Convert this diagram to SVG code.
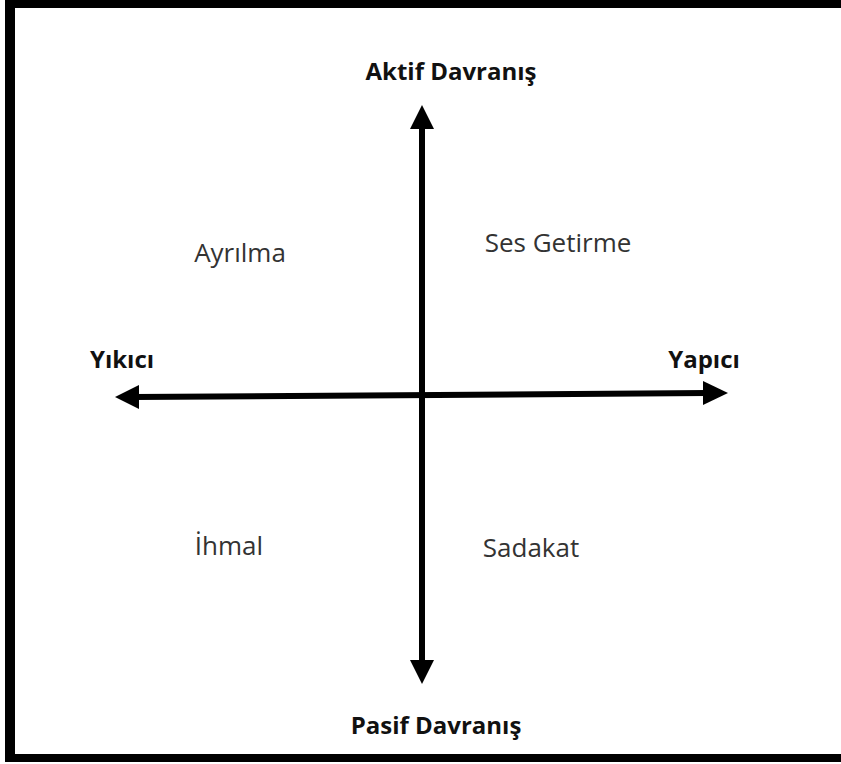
<svg xmlns="http://www.w3.org/2000/svg" width="841" height="764" viewBox="0 0 841 764">
  <style>
    .axis { stroke: #000; stroke-width: 6; fill: none; }
    .head { fill: #000; }
    .bold { font-family: "Open Sans", "Liberation Sans", sans-serif; font-weight: bold; font-size: 24px; fill: #111; }
    .reg { font-family: "Open Sans", "Liberation Sans", sans-serif; font-size: 26px; fill: #333; }
  </style>
  <rect x="0" y="0" width="841" height="764" fill="#fff"/>
  <g id="frame">
    <rect x="5" y="0" width="836" height="8" fill="#000"/>
    <rect x="5" y="0" width="10" height="762" fill="#000"/>
    <rect x="5" y="754" width="836" height="8" fill="#000"/>
  </g>
  <g id="connectors">
    <line class="axis" x1="422" y1="124" x2="422" y2="664"/>
    <polygon class="head" points="422,105 410,129 434,129"/>
    <polygon class="head" points="422,684 410,660 434,660"/>
    <line class="axis" x1="134" y1="397" x2="707" y2="393"/>
    <polygon class="head" points="115,397 139,385 139,409"/>
    <polygon class="head" points="728,393 703,381 703,405"/>
  </g>
  <g id="aktif"><text class="bold" x="451" y="80" text-anchor="middle">Aktif Davranış</text></g>
  <g id="pasif"><text class="bold" x="436" y="734" text-anchor="middle">Pasif Davranış</text></g>
  <g id="yikici"><text class="bold" x="122" y="368" text-anchor="middle">Yıkıcı</text></g>
  <g id="yapici"><text class="bold" x="704" y="368" text-anchor="middle">Yapıcı</text></g>
  <g id="ayrilma"><text class="reg" x="240" y="262" text-anchor="middle">Ayrılma</text></g>
  <g id="ses-getirme"><text class="reg" x="558" y="252" text-anchor="middle">Ses Getirme</text></g>
  <g id="ihmal"><text class="reg" x="229" y="555" text-anchor="middle">İhmal</text></g>
  <g id="sadakat"><text class="reg" x="531" y="557" text-anchor="middle">Sadakat</text></g>
</svg>
